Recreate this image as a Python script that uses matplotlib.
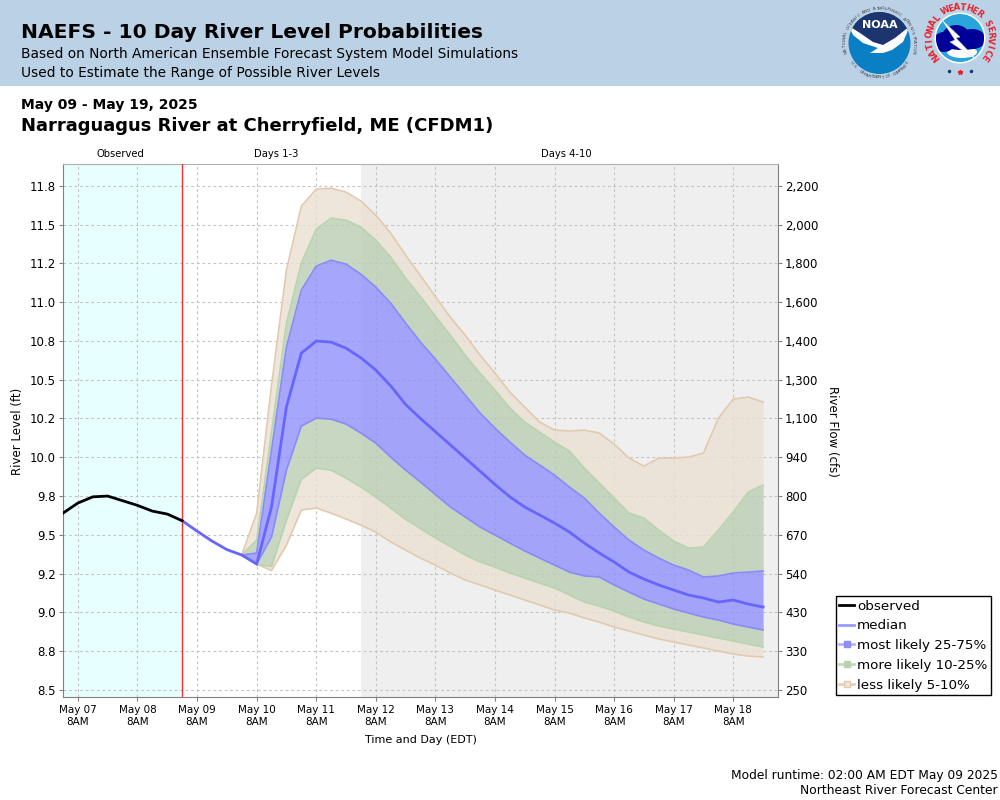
"""
NAEFS river level probabilities for Narraguagus River at Cherryfield
"""
import numpy as np
import pandas as pd
import matplotlib
matplotlib.use("Agg")
import matplotlib.pyplot as plt
import matplotlib.dates as mdates
from matplotlib.lines import Line2D
from matplotlib.patches import Circle, Ellipse, Polygon, Rectangle

# ---------DATA------------
# observed stage, 6 hourly from May 07 2AM
obs_level = [9.640, 9.705, 9.745, 9.750, 9.720, 9.690, 9.653, 9.634, 9.591]

# median forecast, 6 hourly from May 09 2AM
median_level = [
    9.591, 9.524, 9.460, 9.405, 9.370, 9.312, 9.681, 10.325, 10.671, 10.749,
    10.742, 10.703, 10.641, 10.562, 10.460, 10.340, 10.250, 10.165, 10.080, 9.995,
    9.910, 9.825, 9.745, 9.679, 9.628, 9.576, 9.518, 9.447, 9.383, 9.325,
    9.260, 9.215, 9.177, 9.144, 9.112, 9.093, 9.067, 9.080, 9.054, 9.035,
]

# the bands start 24 hours into the forecast (May 10 2AM)
p95_level = [
    9.370, 9.640, 10.465, 11.206, 11.618, 11.728, 11.734, 11.709, 11.651, 11.560,
    11.444, 11.303, 11.170, 11.035, 10.903, 10.787, 10.658, 10.542, 10.420, 10.323,
    10.227, 10.175, 10.169, 10.175, 10.156, 10.085, 9.995, 9.943, 9.995, 9.995,
    10.001, 10.027, 10.252, 10.375, 10.388, 10.356,
]
p90_level = [
    9.370, 9.466, 10.162, 10.865, 11.251, 11.470, 11.541, 11.528, 11.483, 11.399,
    11.290, 11.154, 11.035, 10.910, 10.787, 10.658, 10.542, 10.433, 10.317, 10.227,
    10.162, 10.098, 10.040, 9.930, 9.834, 9.737, 9.640, 9.608, 9.531, 9.460,
    9.415, 9.421, 9.531, 9.647, 9.776, 9.821,
]
p75_level = [
    9.370, 9.383, 10.046, 10.710, 11.077, 11.232, 11.270, 11.245, 11.180, 11.097,
    10.993, 10.865, 10.742, 10.633, 10.517, 10.401, 10.285, 10.188, 10.098, 10.014,
    9.950, 9.885, 9.808, 9.737, 9.640, 9.550, 9.466, 9.402, 9.350, 9.305,
    9.273, 9.228, 9.235, 9.254, 9.260, 9.267,
]
p25_level = [
    9.370, 9.312, 9.486, 9.917, 10.201, 10.252, 10.246, 10.214, 10.156, 10.091,
    10.001, 9.917, 9.840, 9.760, 9.680, 9.615, 9.550, 9.499, 9.447, 9.396,
    9.350, 9.305, 9.260, 9.235, 9.228, 9.177, 9.131, 9.086, 9.054, 9.022,
    8.996, 8.970, 8.951, 8.925, 8.906, 8.887,
]
p10_level = [
    9.370, 9.312, 9.296, 9.595, 9.859, 9.930, 9.917, 9.866, 9.808, 9.743,
    9.673, 9.600, 9.540, 9.480, 9.425, 9.370, 9.325, 9.292, 9.254, 9.222,
    9.189, 9.157, 9.112, 9.067, 9.041, 9.009, 8.970, 8.938, 8.912, 8.893,
    8.874, 8.854, 8.835, 8.816, 8.796, 8.777,
]
p05_level = [
    9.370, 9.312, 9.270, 9.434, 9.660, 9.673, 9.640, 9.602, 9.563, 9.518,
    9.454, 9.402, 9.350, 9.305, 9.254, 9.209, 9.177, 9.144, 9.112, 9.080,
    9.048, 9.015, 8.996, 8.964, 8.938, 8.906, 8.880, 8.854, 8.829, 8.809,
    8.790, 8.771, 8.751, 8.732, 8.719, 8.713,
]

level_ticks = [8.5, 8.75, 9.0, 9.25, 9.5, 9.75, 10.0, 10.25, 10.5, 10.75, 11.0, 11.25, 11.5, 11.75]
level_labels = ["8.5", "8.8", "9.0", "9.2", "9.5", "9.8", "10.0", "10.2", "10.5", "10.8", "11.0", "11.2", "11.5", "11.8"]
flow_labels = ["250", "330", "430", "540", "670", "800", "940", "1,100", "1,300", "1,400", "1,600", "1,800", "2,000", "2,200"]

obs_times = pd.date_range("2025-05-07 02:00", periods=len(obs_level), freq="6h")
fc_times = pd.date_range("2025-05-09 02:00", periods=len(median_level), freq="6h")
band_times = fc_times[4:]

BLUE_FILL, BLUE_EDGE = "#9090fc", "#8a8af8"
GREEN_FILL, GREEN_EDGE = "#baceb3", "#b8d4ae"
TAN_FILL, TAN_EDGE = "#ebe0d3", "#e2caaf"


def px_text(ax, x, y, s, size, **kw):
    return ax.text(x, y, s, fontsize=size, va="center", **kw)


def ring_text(ax, cx, cy, r, s, start, stop, flip=False, **kw):
    # one character at a time round a circle, angles clockwise from the top
    angles = np.linspace(start, stop, len(s))
    for ch, a in zip(s, angles):
        t = np.radians(a)
        rot = 180 - a if flip else -a
        ax.text(cx + r * np.sin(t), cy - r * np.cos(t), ch, rotation=rot,
                ha="center", va="center", rotation_mode="anchor", **kw)


def draw_noaa(ax):
    cx, cy = 879.5, 43
    disc = Circle((cx, cy), 31, fc="#0a7fc4", ec="none", zorder=2)
    ax.add_patch(disc)
    top = Polygon([(846, 8), (913, 8), (913, 28), (895, 42), (882, 47), (868, 42), (849, 26)],
                  fc="#1d356f", ec="none", zorder=3)
    ax.add_patch(top)
    top.set_clip_path(disc)
    bird = Polygon([(849, 26), (860, 33), (873, 42), (883, 45), (895, 38), (910, 26), (903, 42),
                    (892, 50), (883, 53), (870, 53), (878, 48), (863, 43), (853, 35)],
                   fc="white", ec="none", zorder=4)
    ax.add_patch(bird)
    bird.set_clip_path(disc)
    ax.text(cx, 25, "NOAA", color="white", fontsize=8, fontweight="bold", ha="center", va="center", zorder=5)
    ring_text(ax, cx, cy, 34.5, "NATIONAL OCEANIC AND ATMOSPHERIC ADMINISTRATION", -105, 105,
              fontsize=3.2, color="#444444")
    ring_text(ax, cx, cy, 34.5, "U.S. DEPARTMENT OF COMMERCE", 235, 125, flip=True,
              fontsize=3.2, color="#444444")


def draw_nws(ax):
    cx, cy = 960, 38
    ax.add_patch(Circle((cx, cy), 25.5, fc="white", ec="none", zorder=2))
    disc = Circle((cx, cy), 24, fc="#2aa5dc", ec="none", zorder=3)
    ax.add_patch(disc)
    # white belly under the cloud
    belly = Ellipse((962, 52), 30, 12, fc="white", ec="none", zorder=3.5)
    ax.add_patch(belly)
    belly.set_clip_path(disc)
    for ex, ey, ew, eh in [(944, 42, 22, 20), (956, 37, 28, 24), (972, 39, 28, 20), (962, 44, 40, 12)]:
        blob = Ellipse((ex, ey), ew, eh, fc="#000099", ec="none", zorder=4)
        ax.add_patch(blob)
        blob.set_clip_path(disc)
    bolt = Polygon([(942, 20), (960, 37), (956, 38), (977, 60), (950, 42), (955, 40), (942, 20)],
                   fc="white", ec="#dddddd", lw=0.3, zorder=5)
    ax.add_patch(bolt)
    ring_text(ax, cx, cy, 30.5, "NATIONAL WEATHER SERVICE", -128, 128,
              fontsize=6, fontweight="bold", color="#e8202a")
    ax.plot([949, 971], [71, 71], ls="none", marker="o", ms=1.5, color="#1d356f")
    ax.plot([960], [72], ls="none", marker="*", ms=3.5, color="#e8202a")


# ---------FIGURE------------
fig = plt.figure(figsize=(10, 8), dpi=100)

# page layer in pixels, for header and footer text
page = fig.add_axes([0, 0, 1, 1], zorder=0)
page.set_xlim(0, 1000)
page.set_ylim(800, 0)
page.axis("off")
page.add_patch(Rectangle((0, 0), 1000, 85.5, fc="#bbd2e6", ec="none"))
px_text(page, 21, 33, "NAEFS - 10 Day River Level Probabilities", 14.55, fontweight="bold")
px_text(page, 21, 54, "Based on North American Ensemble Forecast System Model Simulations", 9.87)
px_text(page, 21, 73, "Used to Estimate the Range of Possible River Levels", 9.87)
px_text(page, 21, 105, "May 09 - May 19, 2025", 10, fontweight="bold")
px_text(page, 21, 126, "Narraguagus River at Cherryfield, ME (CFDM1)", 13, fontweight="bold")
px_text(page, 120, 154, "Observed", 7.2, ha="center")
px_text(page, 276, 154, "Days 1-3", 7.2, ha="center")
px_text(page, 566, 154, "Days 4-10", 7.2, ha="center")
px_text(page, 18, 431, "River Level (ft)", 8.5, ha="center", rotation=90)
px_text(page, 832, 431, "River Flow (cfs)", 8.5, ha="center", rotation=-90)
px_text(page, 421, 740, "Time and Day (EDT)", 8, ha="center")
px_text(page, 998, 775, "Model runtime: 02:00 AM EDT May 09 2025", 8.82, ha="right")
px_text(page, 998, 791, "Northeast River Forecast Center", 8.82, ha="right")
draw_noaa(page)
draw_nws(page)

ax = fig.add_axes([0.063, 103 / 800, 0.715, 533 / 800], zorder=1)
ax.set_xlim(pd.Timestamp("2025-05-07 02:00"), pd.Timestamp("2025-05-19 02:00"))
ax.set_ylim(8.455, 11.89)

ax.axvspan(pd.Timestamp("2025-05-07 02:00"), pd.Timestamp("2025-05-09 02:00"), color="#e8ffff", lw=0, zorder=0)
ax.axvspan(pd.Timestamp("2025-05-12 02:00"), pd.Timestamp("2025-05-19 02:00"), color="#efefef", lw=0, zorder=0)

ax.xaxis.set_major_locator(mdates.HourLocator(byhour=8))
ax.xaxis.set_major_formatter(mdates.DateFormatter("%b %d\n8AM"))
ax.set_yticks(level_ticks)
ax.set_yticklabels(level_labels)
ax.tick_params(axis="x", labelsize=7.5, length=3, color="#808080", pad=3)
ax.tick_params(axis="y", labelsize=8.5, length=3, color="#808080", pad=2)
ax.grid(True, color="#c4c4c4", lw=0.8, ls=(0, (2.5, 2.5)), zorder=1)
ax.set_axisbelow(True)
for side in ["left", "right", "bottom"]:
    ax.spines[side].set_color("#808080")
ax.spines["top"].set_color("#b0b0b0")

# bands, outside in
bands = [
    (p90_level, p95_level, TAN_FILL),
    (p05_level, p10_level, TAN_FILL),
    (p75_level, p90_level, GREEN_FILL),
    (p10_level, p25_level, GREEN_FILL),
    (p25_level, p75_level, BLUE_FILL),
]
for low, high, fill in bands:
    ax.fill_between(band_times, low, high, color=fill, alpha=0.8, lw=0, zorder=2)
for vals, edge in [(p95_level, TAN_EDGE), (p05_level, TAN_EDGE), (p90_level, GREEN_EDGE),
                   (p10_level, GREEN_EDGE), (p75_level, BLUE_EDGE), (p25_level, BLUE_EDGE)]:
    ax.plot(band_times, vals, color=edge, lw=1.2, zorder=3)

ax.axvline(pd.Timestamp("2025-05-09 02:00"), color="#ff2a2a", lw=1, zorder=4)
ax.plot(fc_times, median_level, color="#6666ff", lw=2, zorder=5, solid_joinstyle="miter")
ax.plot(obs_times, obs_level, color="black", lw=2, zorder=5)

flow_ax = ax.twinx()
flow_ax.set_ylim(ax.get_ylim())
flow_ax.set_yticks(level_ticks)
flow_ax.set_yticklabels(flow_labels)
flow_ax.tick_params(axis="y", labelsize=8.5, length=3, color="#808080", pad=2)
flow_ax.patch.set_visible(False)
for s in flow_ax.spines.values():
    s.set_visible(False)

handles = [
    Line2D([], [], color="black", lw=2),
    Line2D([], [], color="#9999ff", lw=2),
    Line2D([], [], color="#b4b4fb", lw=2, marker="s", ms=5, mfc="#8f8ffb", mec="#8a8af8"),
    Line2D([], [], color="#c4dabc", lw=2, marker="s", ms=5, mfc="#b9d1b0", mec="#b8d4ae"),
    Line2D([], [], color="#e6d2bc", lw=2, marker="s", ms=5, mfc="#efe6dc", mec="#e2caaf"),
]
names = ["observed", "median", "most likely 25-75%", "more likely 10-25%", "less likely 5-10%"]
leg = fig.legend(handles, names, loc="lower left", bbox_to_anchor=(0.8355, 105 / 800),
                 bbox_transform=fig.transFigure, borderaxespad=0, fontsize=9.7, frameon=True,
                 fancybox=False, framealpha=1, edgecolor="black", handlelength=1.15,
                 handletextpad=0.2, labelspacing=0.5, borderpad=0.25)
leg.get_frame().set_linewidth(1)

fig.savefig("out.png", dpi=100)
